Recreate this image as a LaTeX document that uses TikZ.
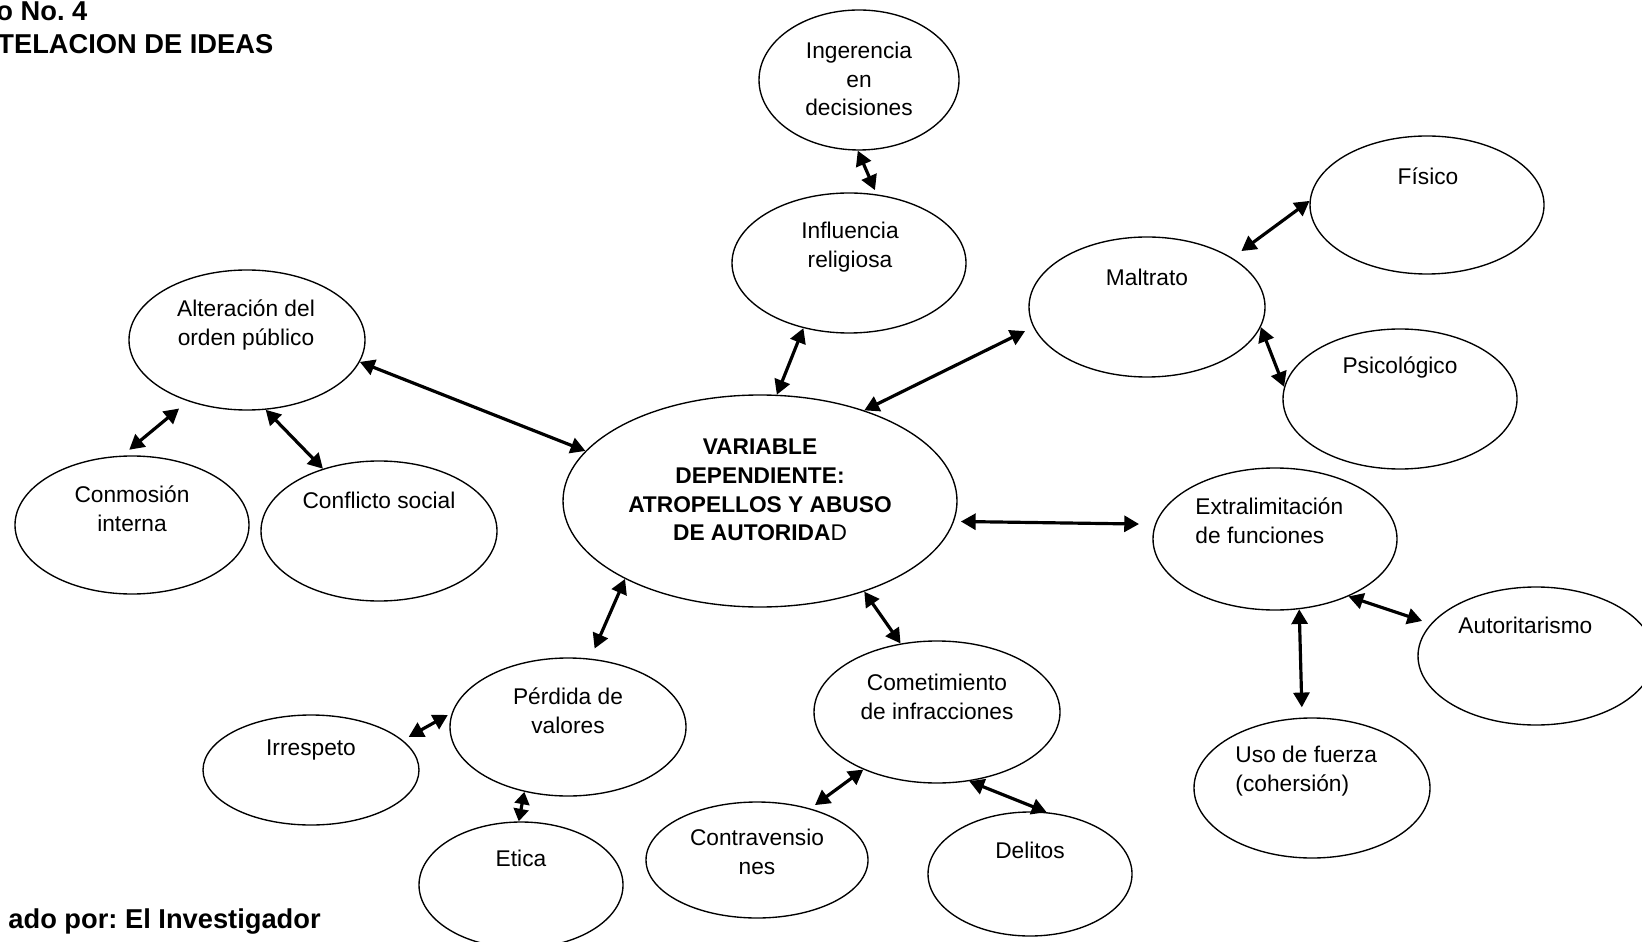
\documentclass[tikz,border=0pt]{standalone}
\usepackage{fontspec}
\setmainfont{Liberation Sans}
\usepackage{tikz}
\usetikzlibrary{shapes.geometric}
\usetikzlibrary{arrows.meta}
\frenchspacing
\tikzset{my bubble/.style 2 args={
  draw,
  ellipse,
  line width=0.6pt,
  inner sep=0pt,
  minimum width=#1*0.88pt,
  minimum height=#2*0.88pt
  }
}
\tikzset{my text/.style={
  font=\fontsize{10}{12.6}\selectfont,
  align=center,
  inner sep=0pt
  }
}
\tikzset{my double arrow/.style={
  line width=1.4pt,
  {Triangle[length=6.5pt,width=7pt]}-{Triangle[length=6.5pt,width=7pt]}
  }
}

\begin{document}
\begin{tikzpicture}[x=0.44pt,y=-0.44pt]
    \useasboundingbox (0,0) rectangle (1642,942);
    \clip (0,0) rectangle (1642,942);

    \foreach \nm/\cx/\cy/\rx/\ry in {ing/859/80/100/70, inf/849/263/117/70, fis/1427/205/117/69,
        mal/1147/307/118/70, psi/1400/399/117/70, alt/247/340/118/70, cnm/132/525/117/69,
        cfl/379/531/118/70, var/760/501/197/106, ext/1275/539/122/71, aut/1536/656/118/69,
        uso/1312/788/118/70, per/568/727/118/69, irr/311/770/108/55, eti/521/885/102/63,
        com/937/712/123/71, ctv/757/860/111/58, del/1030/874/102/62}
        \node[my bubble={\rx}{\ry}] (\nm) at (\cx,\cy) {};

    \node[my text] (ing-t) at (859,79) {Ingerencia\\en\\decisiones};
    \node[my text] (inf-t) at (850,247) {Influencia\\religiosa};
    \node[my text] (fis-t) at (1428,176) {Físico};
    \node[my text] (mal-t) at (1147,277) {Maltrato};
    \node[my text] (psi-t) at (1400,367) {Psicológico};
    \node[my text] (alt-t) at (246,325) {Alteración del\\orden público};
    \node[my text] (cnm-t) at (132,509) {Conmosión\\interna};
    \node[my text] (cfl-t) at (379,500) {Conflicto social};
    \node[my text,font=\fontsize{10}{12.6}\selectfont\bfseries] (var-t) at (760,490)
        {VARIABLE\\DEPENDIENTE:\\ATROPELLOS Y ABUSO\\DE AUTORIDA{\mdseries D}};
    \node[my text,align=left,anchor=west] (ext-t) at (1195,521) {Extralimitación\\de funciones};
    \node[my text,anchor=west] (aut-t) at (1458,625) {Autoritarismo};
    \node[my text,align=left,anchor=west] (uso-t) at (1235,771) {Uso de fuerza\\(cohersión)};
    \node[my text] (per-t) at (568,711) {Pérdida de\\valores};
    \node[my text] (irr-t) at (311,750) {Irrespeto};
    \node[my text] (eti-t) at (521,858) {Etica};
    \node[my text] (com-t) at (937,697) {Cometimiento\\de infracciones};
    \node[my text] (ctv-t) at (757,852) {Contravensio\\nes};
    \node[my text] (del-t) at (1030,850) {Delitos};

    \node[anchor=base west,inner sep=0pt,font=\fontsize{12}{14}\selectfont\bfseries] (cuadro) at (-4,21) {o No. 4};
    \node[anchor=base west,inner sep=0pt,font=\fontsize{12}{14}\selectfont\bfseries] (titulo) at (-3,54) {TELACION DE IDEAS};
    \node[anchor=base west,inner sep=0pt,font=\fontsize{12}{14}\selectfont\bfseries] (autor) at (8,928) {ado por: El Investigador};

    \draw[my double arrow, shorten >=2pt]  (ing.-91) -- (inf.68);
    \draw[my double arrow]  (inf.235) -- (var.81);
    \draw[my double arrow, shorten >=4pt]  (var.41) -- (mal.190);
    \draw[my double arrow, shorten <=5pt]  (mal.30) -- (fis.178);
    \draw[my double arrow]  (mal.-10) -- (psi.174);
    \draw[my double arrow]  (alt.-11) -- (var.164);
    \draw[my double arrow, shorten <=5pt, shorten >=4pt]  (alt.226) -- (cnm.98);
    \draw[my double arrow]  (alt.-75) -- (cfl.132);
    \draw[my double arrow, shorten <=3pt, shorten >=7pt]  (var.-6) -- (ext.173);
    \draw[my double arrow, shorten >=4pt]  (ext.-38) -- (aut.163);
    \draw[my double arrow, shorten >=4.5pt]  (ext.-71) -- (uso.98);
    \draw[my double arrow, shorten >=4.8pt]  (var.210) -- (per.72);
    \draw[my double arrow, shorten <=2pt, shorten >=3pt]  (per.173) -- (irr.18);
    \draw[my double arrow, {Triangle[length=5.5pt,width=6.5pt]}-{Triangle[length=5.5pt,width=6.5pt]}]  (per.236) -- (eti.92);
    \draw[my double arrow]  (var.-41) -- (com.118);
    \draw[my double arrow, shorten >=2.5pt]  (com.218) -- (ctv.44);
    \draw[my double arrow]  (com.-65) -- (del.75);

\end{tikzpicture}
\end{document}
